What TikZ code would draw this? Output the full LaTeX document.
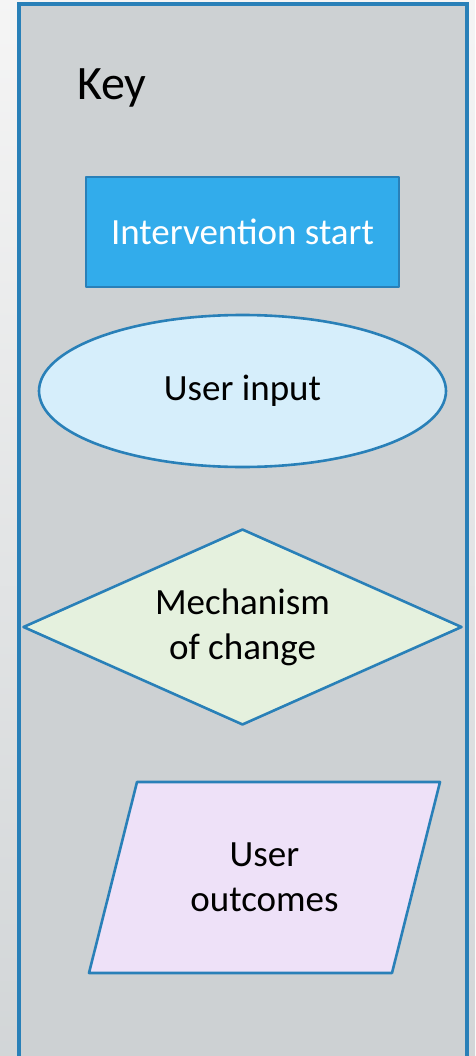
\documentclass[tikz,border=0pt]{standalone}
\usepackage{fontspec}
\setmainfont{Carlito}
\usetikzlibrary{shapes.geometric}
\usetikzlibrary{math}

\definecolor{keyblue}{RGB}{41,128,184}
\definecolor{panelgray}{RGB}{205,209,211}
\definecolor{startblue}{RGB}{50,172,235}
\definecolor{inputblue}{RGB}{214,238,251}
\definecolor{changegreen}{RGB}{229,241,222}
\definecolor{outcomeviolet}{RGB}{238,225,248}

\tikzset{
  keyline/.style={draw=keyblue, line width=2.6pt, line join=round},
  keyshape/.style={keyline, inner sep=0pt,
    align=center, font=\fontsize{37}{45}\selectfont},
}

\begin{document}
\begin{tikzpicture}[x=1pt,y=-1pt]

  \tikzmath{
    \panelleft  = 19;    % left edge of the key panel
    \panelright = 467;   % right edge of the key panel
    \paneltop   = 4;     % top edge of the key panel
    \midx       = 242.5; % centre line of the shapes
  }

  % page and panel
  \useasboundingbox (0,0) rectangle (475,1056);
  \shade[top color=white!96!black, bottom color=panelgray!90!white]
    (0,0) rectangle (475,1056);
  \fill[panelgray] (\panelleft,\paneltop) rectangle (\panelright,1060);
  \draw[keyblue, line width=4pt] (\panelleft,1060) -- (\panelleft,\paneltop)
    -- (\panelright,\paneltop) -- (\panelright,1060);

  % title
  \node[anchor=base west, inner sep=0pt, font=\fontsize{48}{58}\selectfont]
    (key) at (77,100) {Key};

  % legend shapes
  \node[keyshape, rectangle, fill=startblue, text=white,
    minimum width=313pt, minimum height=110pt]
    (start) at (\midx,232) {Intervention start};

  \node[keyshape, ellipse, fill=inputblue,
    minimum width=407pt, minimum height=152pt]
    (input) at (\midx,391) {User input};

  \node[keyshape, diamond, fill=changegreen, shape aspect=2.24,
    minimum width=439pt, minimum height=196pt]
    (change) at (\midx,627) {Mechanism\\of change};

  % parallelogram drawn by hand, text node in the middle
  \draw[keyline, fill=outcomeviolet]
    (137,782) -- (440,782) -- (392,973) -- (89,973) -- cycle;
  \node[keyshape, draw=none] (outcome) at (264.5,877.5) {User\\outcomes};

\end{tikzpicture}
\end{document}
